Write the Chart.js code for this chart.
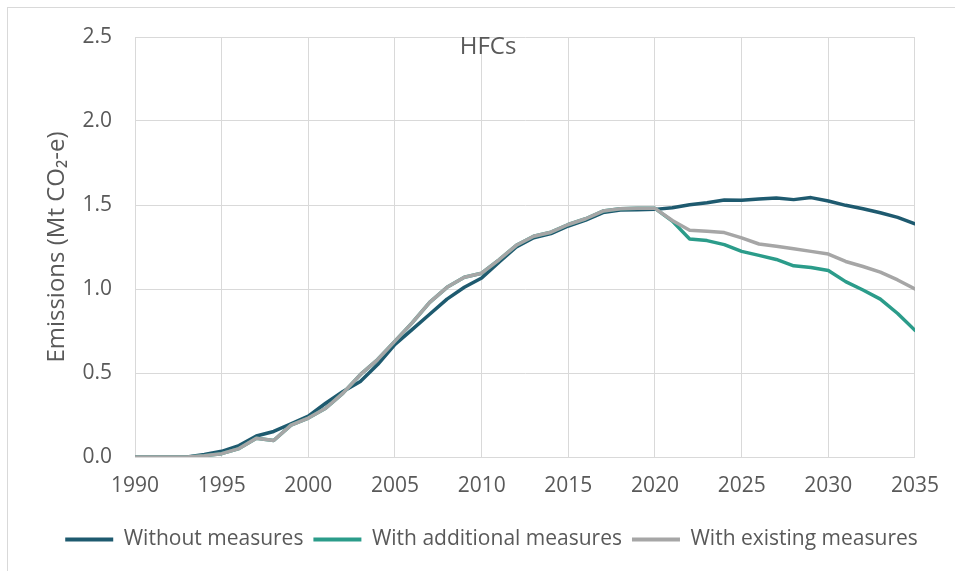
<!DOCTYPE html>
<html>
<head>
<meta charset="utf-8">
<script src="https://cdn.jsdelivr.net/npm/chart.js@4"></script>
<style>
  body { margin: 0; background: #fff; }
  #wrap { width: 955px; height: 571px; }
</style>
</head>
<body>
<div id="wrap"><canvas id="hfcChart" width="955" height="571"></canvas></div>
<script>
// HFC emissions projections, Mt CO2-e
const years = [];
for (let y = 1990; y <= 2035; y++) years.push(y);

const withoutMeasures = [
  0, 0, 0, 0, 0.015, 0.034, 0.068, 0.125, 0.152, 0.198,
  0.243, 0.32, 0.39, 0.45, 0.55, 0.67, 0.76, 0.85, 0.94, 1.01,
  1.065, 1.16, 1.25, 1.305, 1.33, 1.375, 1.41, 1.455, 1.47, 1.472,
  1.474, 1.484, 1.502, 1.514, 1.53, 1.528, 1.536, 1.542, 1.532, 1.544,
  1.524, 1.498, 1.478, 1.454, 1.426, 1.388
];

const withAdditional = [
  0, 0, 0, 0, 0.008, 0.02, 0.05, 0.112, 0.098, 0.19,
  0.232, 0.29, 0.38, 0.49, 0.58, 0.69, 0.80, 0.92, 1.01, 1.07,
  1.094, 1.174, 1.26, 1.314, 1.338, 1.384, 1.418, 1.464, 1.478, 1.48,
  1.48, 1.404, 1.298, 1.288, 1.264, 1.224, 1.20, 1.176, 1.138, 1.128,
  1.11, 1.044, 0.994, 0.94, 0.854, 0.754
];

const withExisting = [
  0, 0, 0, 0, 0.008, 0.02, 0.05, 0.112, 0.098, 0.19,
  0.232, 0.29, 0.38, 0.49, 0.58, 0.69, 0.80, 0.92, 1.01, 1.07,
  1.094, 1.174, 1.26, 1.314, 1.338, 1.384, 1.418, 1.464, 1.478, 1.48,
  1.48, 1.408, 1.35, 1.344, 1.336, 1.304, 1.268, 1.254, 1.24, 1.224,
  1.208, 1.164, 1.134, 1.10, 1.054, 1.0
];

const seriesNames = ['Without measures', 'With additional measures', 'With existing measures'];
const seriesColors = ['#1e5a6f', '#2b9c8a', '#a6a6a6'];
const chartTitle = 'HFCs';
const yAxisTitle = 'Emissions (Mt CO\u2082-e)';

const textColor = '#595959';
const gridColor = '#d9d9d9';
const fontFamily = '"Open Sans", "DejaVu Sans", sans-serif';

function toPoints(values) {
  return values.map((v, i) => ({ x: years[i], y: v }));
}

// draws the frame, the overlaid title and the y-axis title
const decorations = {
  id: 'decorations',
  afterLayout(chart) {
    // legend in the original sits a bit right of the canvas centre
    const lg = chart.legend;
    if (lg) { lg.left += 34; lg.right += 34; }
  },
  beforeDraw(chart) {
    const ctx = chart.ctx;
    ctx.save();
    ctx.fillStyle = '#fff';
    ctx.fillRect(0, 0, chart.width, chart.height);
    // outer frame, cut off at the right and bottom like the original
    ctx.strokeStyle = '#d9d9d9';
    ctx.lineWidth = 1;
    ctx.strokeRect(7.5, 7.5, 1000, 1000);
    ctx.restore();
  },
  afterDraw(chart) {
    const ctx = chart.ctx;
    ctx.save();
    ctx.fillStyle = '#fff';
    ctx.fillRect(448, 38, 80, 16);
    ctx.fillStyle = textColor;
    ctx.font = '24px ' + fontFamily;
    ctx.textAlign = 'center';
    ctx.textBaseline = 'middle';
    ctx.fillText(chartTitle, 488, 47);

    const area = chart.chartArea;
    ctx.translate(57, (area.top + area.bottom) / 2);
    ctx.rotate(-Math.PI / 2);
    ctx.font = '24px ' + fontFamily;
    ctx.fillText(yAxisTitle, 0, 0);
    ctx.restore();
  }
};

function generateChart() {
  const ctx = document.getElementById('hfcChart').getContext('2d');

  const datasets = [withoutMeasures, withAdditional, withExisting].map((values, i) => ({
    label: seriesNames[i],
    data: toPoints(values),
    borderColor: seriesColors[i],
    backgroundColor: seriesColors[i],
    borderWidth: 3.5,
    pointRadius: 0,
    tension: 0,
    borderJoinStyle: 'round',
    borderCapStyle: 'round',
    order: 2 - i   // grey on top, like the original
  }));

  new Chart(ctx, {
    type: 'line',
    data: { datasets: datasets },
    options: {
      responsive: false,
      animation: false,
      layout: { padding: { top: 37, right: 40, bottom: 11, left: 0 } },
      scales: {
        x: {
          type: 'linear',
          min: 1990,
          max: 2035,
          grid: { color: gridColor, drawTicks: false },
          border: { color: gridColor },
          ticks: {
            stepSize: 5,
            padding: 16,
            color: textColor,
            font: { family: fontFamily, size: 21 },
            callback: v => String(v)
          },
          afterFit: scale => { scale.height = 62; }
        },
        y: {
          min: 0,
          max: 2.5,
          grid: { color: gridColor, drawTicks: false },
          border: { color: gridColor },
          ticks: {
            stepSize: 0.5,
            padding: 23,
            color: textColor,
            font: { family: fontFamily, size: 21 },
            callback: v => v.toFixed(1)
          },
          afterFit: scale => { scale.width = 135; }
        }
      },
      plugins: {
        legend: {
          position: 'bottom',
          labels: {
            boxWidth: 48,
            boxHeight: 4,
            padding: 10,
            color: textColor,
            font: { family: fontFamily, size: 21 },
            sort: (a, b) => a.datasetIndex - b.datasetIndex,
            generateLabels: chart => {
              const items = Chart.defaults.plugins.legend.labels.generateLabels(chart);
              items.forEach(it => { it.lineWidth = 0; it.fillStyle = it.strokeStyle; });
              return items;
            }
          }
        },
        tooltip: { enabled: false }
      }
    },
    plugins: [decorations]
  });
}

generateChart();
</script>
</body>
</html>
